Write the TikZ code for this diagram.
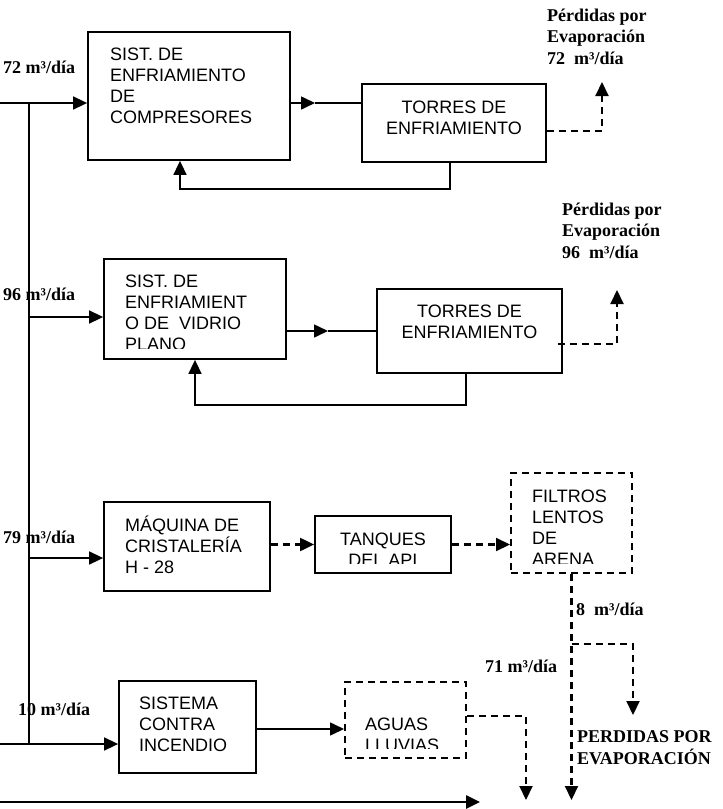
\documentclass[tikz,border=0pt]{standalone}
\usepackage{fontspec}
\setmainfont{Liberation Serif}
\setsansfont{Liberation Sans}
\usetikzlibrary{arrows.meta}
\begin{document}
\begin{tikzpicture}[x=1pt,y=-1pt,
  box/.style={draw,line width=1.8pt,inner sep=0pt},
  dbox/.style={box,line width=2pt,dash pattern=on 7pt off 5pt},
  btxt/.style={font=\sffamily\fontsize{18}{21}\selectfont,inner sep=0pt,align=left,anchor=base west},
  ctxt/.style={btxt,align=center,anchor=base},
  lbl/.style={font=\bfseries\fontsize{18}{21.5}\selectfont,inner sep=0pt,align=left,anchor=base west},
  ln/.style={line width=1.6pt},
  arr/.style={ln,-{Triangle[length=14pt,width=13pt]}},
  dsh/.style={dash pattern=on 7pt off 5pt,line width=2.1pt}]
\useasboundingbox (0,0) rectangle (723,809);
% boxes
\node[box,minimum width=202pt,minimum height=128pt] (b1) at (189,96) {};
\node[box,minimum width=184pt,minimum height=78pt] (t1) at (454,123) {};
\node[box,minimum width=182pt,minimum height=100pt] (b2) at (195,309) {};
\node[box,minimum width=185pt,minimum height=84pt] (t2) at (469.5,331) {};
\node[box,minimum width=166pt,minimum height=89pt] (b3) at (187,546.5) {};
\node[box,minimum width=136pt,minimum height=57pt] (tq) at (383,544.5) {};
\node[dbox,minimum width=121pt,minimum height=100pt] (fl) at (571.5,523) {};
\node[box,minimum width=137pt,minimum height=92pt] (si) at (187.5,727) {};
\node[dbox,minimum width=121pt,minimum height=76pt] (ag) at (405.5,720) {};
% box texts (anchor = baseline of the last line)
\node[btxt] (b1t) at (110,123) {SIST. DE\\ENFRIAMIENTO\\DE\\COMPRESORES};
\node[ctxt] (t1t) at (454,134) {TORRES DE\\ENFRIAMIENTO};
\begin{scope}
\clip (104,259) rectangle (286,348);
\node[btxt] (b2t) at (125,350) {SIST. DE\\ENFRIAMIENT\\O DE~ VIDRIO\\PLANO};
\end{scope}
\node[ctxt] (t2t) at (469.5,338) {TORRES DE\\ENFRIAMIENTO};
\node[btxt] (b3t) at (125,573) {MÁQUINA DE\\CRISTALERÍA\\H - 28};
\begin{scope}
\clip (315,516) rectangle (451,563);
\node[ctxt] (tqt) at (383,566) {TANQUES\\DEL API};
\end{scope}
\begin{scope}
\clip (511,473) rectangle (632,563);
\node[btxt] (flt) at (532,565) {FILTROS\\LENTOS\\DE\\ARENA};
\end{scope}
\node[btxt] (sit) at (139,751) {SISTEMA\\CONTRA\\INCENDIO};
\begin{scope}
\clip (345,682) rectangle (466,748);
\node[btxt] (agt) at (365,751) {AGUAS\\LLUVIAS};
\end{scope}
% labels
\node[lbl] (l1) at (3,73) {72 m³/día};
\node[lbl] (l2) at (3,300) {96 m³/día};
\node[lbl] (l3) at (3,543) {79 m³/día};
\node[lbl] (l4) at (18,715) {10 m³/día};
\node[lbl] (p1) at (547,64) {Pérdidas por\\Evaporación\\72~ m³/día};
\node[lbl] (p2) at (562,258) {Pérdidas por\\Evaporación\\96~ m³/día};
\node[lbl] (l5) at (576,615) {8~ m³/día};
\node[lbl] (l6) at (485,672) {71 m³/día};
\node[lbl] (p3) at (577,764) {PERDIDAS POR\\EVAPORACIÓN};
% coordinates
\coordinate (s1) at (0,103);
\coordinate (j1) at (29,103);
\coordinate (j2) at (29,317);
\coordinate (j3) at (29,558);
\coordinate (j4) at (29,744);
\coordinate (s4) at (0,744);
\coordinate (m1) at (315,103);
\coordinate (m2) at (328,331);
\coordinate (e1) at (602,82);
\coordinate (e2) at (617,290);
\coordinate (f1) at (571.5,800);
\coordinate (br) at (571.5,644);
\coordinate (f2) at (633,715);
\coordinate (f3) at (526,800);
\coordinate (s5) at (0,802);
\coordinate (f5) at (480,802);
% connectors
\draw[arr] (s1) -- (s1 -| b1.west);
\draw[ln] (j1) -- (j4);
\draw[arr] (j2) -- (j2 -| b2.west);
\draw[arr] (j3) -- (j3 -| b3.west);
\draw[arr] (s4) -- (s4 -| si.west);
\draw[arr] (m1 -| b1.east) -- (m1);
\draw[ln] (m1) -- (m1 -| t1.west);
\draw[arr] ([xshift=-4pt]t1.south) -- ++(0,26) -| ([xshift=-9pt]b1.south);
\draw[arr,dsh] ([yshift=-8pt]t1.east) -| (e1);
\draw[arr] (m2 -| b2.east) -- (m2);
\draw[ln] (m2) -- (m2 -| t2.west);
\draw[arr] ([xshift=-3.5pt]t2.south) -- ++(0,31) -| (b2.south);
\draw[arr,dsh] ([xshift=-5pt,yshift=-13pt]t2.east) -| (e2);
\draw[arr,dsh] (b3.east |- tq.west) -- (tq.west);
\draw[arr,dsh] (tq.east) -- (tq.east -| fl.west);
\draw[arr,dsh] (fl.south) -- (f1);
\draw[arr,dsh] (br) -| (f2);
\draw[arr] ([yshift=-2pt]si.east) -- ([yshift=-2pt]si.east -| ag.west);
\draw[arr,dsh] ([yshift=4pt]ag.east) -| (f3);
\draw[arr,line width=2.6pt] (s5) -- (f5);
\end{tikzpicture}
\end{document}
